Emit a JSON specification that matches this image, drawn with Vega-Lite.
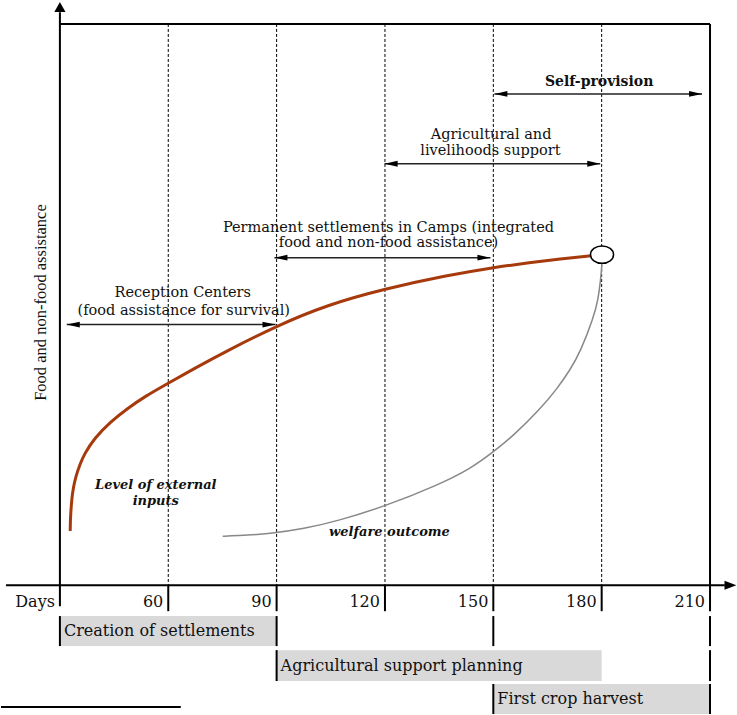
{
  "$schema": "https://vega.github.io/schema/vega-lite/v6.json",
  "width": 737,
  "height": 715,
  "autosize": {"type": "fit", "contains": "padding"},
  "padding": 0,
  "background": "white",
  "config": {"view": {"stroke": null}},
  "datasets": {
    "lanes": [
      {"task": "Creation of settlements", "start": 30, "end": 90, "top": -5.5, "bottom": -10.85, "mid": -8.2},
      {"task": "Agricultural support planning", "start": 90, "end": 180, "top": -11.57, "bottom": -17.08, "mid": -14.35},
      {"task": "First crop harvest", "start": 150, "end": 210, "top": -17.6, "bottom": -22.95, "mid": -20.3}
    ],
    "grid": [
      {"day": 60, "top": 100, "bottom": 0},
      {"day": 90, "top": 100, "bottom": 0},
      {"day": 120, "top": 100, "bottom": 0},
      {"day": 150, "top": 100, "bottom": 0},
      {"day": 180, "top": 100, "bottom": 0}
    ],
    "verticals": [
      {"day": 30, "top": 102.1, "bottom": -3.74},
      {"day": 210, "top": 100, "bottom": -4.63},
      {"day": 60, "top": 0, "bottom": -4.63},
      {"day": 90, "top": 0, "bottom": -4.63},
      {"day": 120, "top": 0, "bottom": -4.63},
      {"day": 150, "top": 0, "bottom": -4.63},
      {"day": 180, "top": 0, "bottom": -4.63},
      {"day": 30, "top": -5.5, "bottom": -10.85},
      {"day": 90, "top": -5.5, "bottom": -10.85},
      {"day": 90, "top": -11.57, "bottom": -17.08},
      {"day": 150, "top": -5.5, "bottom": -10.85},
      {"day": 150, "top": -17.6, "bottom": -22.95},
      {"day": 210, "top": -5.5, "bottom": -10.85},
      {"day": 210, "top": -11.57, "bottom": -17.08},
      {"day": 210, "top": -17.6, "bottom": -22.95}
    ],
    "horizontals": [
      {"from": 30, "to": 210, "level": 100},
      {"from": 15.07, "to": 214.1, "level": 0},
      {"from": 13.69, "to": 63.46, "level": -21.71}
    ],
    "xArrow": [{"day": 217.3, "level": 0}],
    "yArrow": [{"day": 30, "level": 103.9}],
    "spans": [
      {"phase": "Self-provision", "start": 150.3, "end": 207.8, "level": 87.54},
      {"phase": "Agricultural and livelihoods support", "start": 119.9, "end": 179.6, "level": 75.09},
      {"phase": "Permanent settlements in Camps", "start": 89.4, "end": 149.2, "level": 58.36},
      {"phase": "Reception Centers", "start": 31.9, "end": 89.7, "level": 46.44}
    ],
    "inputs": [
      {"day": 32.85, "level": 9.66},
      {"day": 32.9, "level": 11.5},
      {"day": 32.99, "level": 12.63},
      {"day": 33.26, "level": 15.3},
      {"day": 33.73, "level": 17.44},
      {"day": 34.42, "level": 19.4},
      {"day": 35.53, "level": 21.53},
      {"day": 36.72, "level": 23.31},
      {"day": 39.48, "level": 26.16},
      {"day": 44.1, "level": 29.18},
      {"day": 48.72, "level": 31.49},
      {"day": 53.31, "level": 33.54},
      {"day": 59.86, "level": 35.94},
      {"day": 67.13, "level": 38.59},
      {"day": 76.37, "level": 41.8},
      {"day": 89.72, "level": 46.12},
      {"day": 104.02, "level": 49.95},
      {"day": 119.86, "level": 52.79},
      {"day": 137.2, "level": 55.2},
      {"day": 150.08, "level": 56.6},
      {"day": 160.23, "level": 57.49},
      {"day": 168.53, "level": 58.13},
      {"day": 176.82, "level": 58.7},
      {"day": 179.03, "level": 58.84},
      {"day": 179.5, "level": 58.88}
    ],
    "welfare": [
      {"day": 75.07, "level": 8.72},
      {"day": 78.5, "level": 8.8},
      {"day": 88.34, "level": 9.16},
      {"day": 97.55, "level": 10.05},
      {"day": 106.78, "level": 11.42},
      {"day": 120.14, "level": 14.09},
      {"day": 134.43, "level": 17.78},
      {"day": 143.64, "level": 20.73},
      {"day": 149.92, "level": 23.72},
      {"day": 155.61, "level": 26.65},
      {"day": 163.0, "level": 31.41},
      {"day": 167.61, "level": 34.96},
      {"day": 171.29, "level": 38.4},
      {"day": 174.06, "level": 41.51},
      {"day": 177.73, "level": 47.67},
      {"day": 179.03, "level": 50.89},
      {"day": 179.72, "level": 54.45},
      {"day": 180.06, "level": 57.12},
      {"day": 180.1, "level": 58.0}
    ],
    "node": [{"day": 180.1, "level": 58.9}],
    "notesNormal": [
      {"text": "Agricultural and", "day": 149.4, "level": 80.25},
      {"text": "livelihoods support", "day": 149.2, "level": 77.4},
      {"text": "Permanent settlements in Camps (integrated", "day": 120.97, "level": 63.7},
      {"text": "food and non-food assistance)", "day": 120.97, "level": 61.03},
      {"text": "Reception Centers", "day": 64.0, "level": 52.14},
      {"text": "(food assistance for survival)", "day": 64.3, "level": 48.93}
    ],
    "notesBold": [
      {"text": "Self-provision", "day": 179.3, "level": 89.68}
    ],
    "notesItalic": [
      {"text": "Level of external", "day": 56.54, "level": 17.79},
      {"text": "inputs", "day": 56.54, "level": 14.95},
      {"text": "welfare outcome", "day": 121.24, "level": 9.43}
    ],
    "tickLabels": [
      {"day": 30, "label": "Days"},
      {"day": 60, "label": "60"},
      {"day": 90, "label": "90"},
      {"day": 120, "label": "120"},
      {"day": 150, "label": "150"},
      {"day": 180, "label": "180"},
      {"day": 210, "label": "210"}
    ],
    "yTitle": [{"text": "Food and non-food assistance", "day": 24.75, "level": 50.36}]
  },
  "layer": [
    {
      "data": {"name": "lanes"},
      "mark": {"type": "rect", "fill": "#d9d9d9"},
      "encoding": {
        "x": {"field": "start", "type": "quantitative", "scale": {"domain": [13.69, 217.47], "nice": false, "zero": false}, "axis": null},
        "x2": {"field": "end"},
        "y": {"field": "top", "type": "quantitative", "scale": {"domain": [-22.95, 104.27], "nice": false, "zero": false}, "axis": null},
        "y2": {"field": "bottom"}
      }
    },
    {
      "data": {"name": "lanes"},
      "mark": {"type": "text", "align": "left", "baseline": "middle", "dx": 4, "font": "DejaVu Serif", "fontSize": 16, "color": "#111"},
      "encoding": {
        "x": {"field": "start", "type": "quantitative", "scale": {"domain": [13.69, 217.47], "nice": false, "zero": false}, "axis": null},
        "y": {"field": "mid", "type": "quantitative", "scale": {"domain": [-22.95, 104.27], "nice": false, "zero": false}, "axis": null},
        "text": {"field": "task"}
      }
    },
    {
      "data": {"name": "grid"},
      "mark": {"type": "rule", "color": "#000", "strokeWidth": 1, "strokeDash": [3, 2]},
      "encoding": {
        "x": {"field": "day", "type": "quantitative", "scale": {"domain": [13.69, 217.47], "nice": false, "zero": false}, "axis": null},
        "y": {"field": "top", "type": "quantitative", "scale": {"domain": [-22.95, 104.27], "nice": false, "zero": false}, "axis": null},
        "y2": {"field": "bottom"}
      }
    },
    {
      "data": {"name": "verticals"},
      "mark": {"type": "rule", "color": "#000", "strokeWidth": 2},
      "encoding": {
        "x": {"field": "day", "type": "quantitative", "scale": {"domain": [13.69, 217.47], "nice": false, "zero": false}, "axis": null},
        "y": {"field": "top", "type": "quantitative", "scale": {"domain": [-22.95, 104.27], "nice": false, "zero": false}, "axis": null},
        "y2": {"field": "bottom"}
      }
    },
    {
      "data": {"name": "horizontals"},
      "mark": {"type": "rule", "color": "#000", "strokeWidth": 2},
      "encoding": {
        "x": {"field": "from", "type": "quantitative", "scale": {"domain": [13.69, 217.47], "nice": false, "zero": false}, "axis": null},
        "x2": {"field": "to"},
        "y": {"field": "level", "type": "quantitative", "scale": {"domain": [-22.95, 104.27], "nice": false, "zero": false}, "axis": null}
      }
    },
    {
      "data": {"name": "xArrow"},
      "mark": {"type": "point", "shape": "M1,0L-0.7,-0.65L-0.7,0.65Z", "size": 196, "filled": true, "fill": "#000", "opacity": 1, "strokeWidth": 0, "xOffset": -7},
      "encoding": {
        "x": {"field": "day", "type": "quantitative", "scale": {"domain": [13.69, 217.47], "nice": false, "zero": false}, "axis": null},
        "y": {"field": "level", "type": "quantitative", "scale": {"domain": [-22.95, 104.27], "nice": false, "zero": false}, "axis": null}
      }
    },
    {
      "data": {"name": "yArrow"},
      "mark": {"type": "point", "shape": "M0,-1L0.8,0.4L-0.8,0.4Z", "size": 196, "filled": true, "fill": "#000", "opacity": 1, "strokeWidth": 0, "yOffset": 7},
      "encoding": {
        "x": {"field": "day", "type": "quantitative", "scale": {"domain": [13.69, 217.47], "nice": false, "zero": false}, "axis": null},
        "y": {"field": "level", "type": "quantitative", "scale": {"domain": [-22.95, 104.27], "nice": false, "zero": false}, "axis": null}
      }
    },
    {
      "data": {"name": "spans"},
      "mark": {"type": "rule", "color": "#222", "strokeWidth": 1.5},
      "encoding": {
        "x": {"field": "start", "type": "quantitative", "scale": {"domain": [13.69, 217.47], "nice": false, "zero": false}, "axis": null},
        "x2": {"field": "end"},
        "y": {"field": "level", "type": "quantitative", "scale": {"domain": [-22.95, 104.27], "nice": false, "zero": false}, "axis": null}
      }
    },
    {
      "data": {"name": "spans"},
      "mark": {"type": "point", "shape": "M1,0L-1,-0.45L-1,0.45Z", "size": 169, "filled": true, "fill": "#000", "opacity": 1, "strokeWidth": 0, "xOffset": -6.5},
      "encoding": {
        "x": {"field": "end", "type": "quantitative", "scale": {"domain": [13.69, 217.47], "nice": false, "zero": false}, "axis": null},
        "y": {"field": "level", "type": "quantitative", "scale": {"domain": [-22.95, 104.27], "nice": false, "zero": false}, "axis": null}
      }
    },
    {
      "data": {"name": "spans"},
      "mark": {"type": "point", "shape": "M-1,0L1,-0.45L1,0.45Z", "size": 169, "filled": true, "fill": "#000", "opacity": 1, "strokeWidth": 0, "xOffset": 6.5},
      "encoding": {
        "x": {"field": "start", "type": "quantitative", "scale": {"domain": [13.69, 217.47], "nice": false, "zero": false}, "axis": null},
        "y": {"field": "level", "type": "quantitative", "scale": {"domain": [-22.95, 104.27], "nice": false, "zero": false}, "axis": null}
      }
    },
    {
      "data": {"name": "welfare"},
      "mark": {"type": "line", "color": "#888888", "strokeWidth": 1.5, "interpolate": "basis"},
      "encoding": {
        "x": {"field": "day", "type": "quantitative", "scale": {"domain": [13.69, 217.47], "nice": false, "zero": false}, "axis": null},
        "y": {"field": "level", "type": "quantitative", "scale": {"domain": [-22.95, 104.27], "nice": false, "zero": false}, "axis": null}
      }
    },
    {
      "data": {"name": "inputs"},
      "mark": {"type": "line", "color": "#a63a0c", "strokeWidth": 3, "interpolate": "basis"},
      "encoding": {
        "x": {"field": "day", "type": "quantitative", "scale": {"domain": [13.69, 217.47], "nice": false, "zero": false}, "axis": null},
        "y": {"field": "level", "type": "quantitative", "scale": {"domain": [-22.95, 104.27], "nice": false, "zero": false}, "axis": null}
      }
    },
    {
      "data": {"name": "node"},
      "mark": {"type": "point", "shape": "M-1,0A1,0.76,0,1,1,1,0A1,0.76,0,1,1,-1,0Z", "size": 529, "filled": true, "fill": "#fff", "stroke": "#000", "strokeWidth": 1.5, "opacity": 1},
      "encoding": {
        "x": {"field": "day", "type": "quantitative", "scale": {"domain": [13.69, 217.47], "nice": false, "zero": false}, "axis": null},
        "y": {"field": "level", "type": "quantitative", "scale": {"domain": [-22.95, 104.27], "nice": false, "zero": false}, "axis": null}
      }
    },
    {
      "data": {"name": "notesNormal"},
      "mark": {"type": "text", "align": "center", "baseline": "middle", "font": "DejaVu Serif", "fontSize": 14.5, "color": "#111"},
      "encoding": {
        "x": {"field": "day", "type": "quantitative", "scale": {"domain": [13.69, 217.47], "nice": false, "zero": false}, "axis": null},
        "y": {"field": "level", "type": "quantitative", "scale": {"domain": [-22.95, 104.27], "nice": false, "zero": false}, "axis": null},
        "text": {"field": "text"}
      }
    },
    {
      "data": {"name": "notesBold"},
      "mark": {"type": "text", "align": "center", "baseline": "middle", "font": "DejaVu Serif", "fontSize": 14, "fontWeight": "bold", "color": "#111"},
      "encoding": {
        "x": {"field": "day", "type": "quantitative", "scale": {"domain": [13.69, 217.47], "nice": false, "zero": false}, "axis": null},
        "y": {"field": "level", "type": "quantitative", "scale": {"domain": [-22.95, 104.27], "nice": false, "zero": false}, "axis": null},
        "text": {"field": "text"}
      }
    },
    {
      "data": {"name": "notesItalic"},
      "mark": {"type": "text", "align": "center", "baseline": "middle", "font": "DejaVu Serif", "fontSize": 13, "fontWeight": "bold", "fontStyle": "italic", "color": "#111"},
      "encoding": {
        "x": {"field": "day", "type": "quantitative", "scale": {"domain": [13.69, 217.47], "nice": false, "zero": false}, "axis": null},
        "y": {"field": "level", "type": "quantitative", "scale": {"domain": [-22.95, 104.27], "nice": false, "zero": false}, "axis": null},
        "text": {"field": "text"}
      }
    },
    {
      "data": {"name": "tickLabels"},
      "mark": {"type": "text", "align": "right", "baseline": "middle", "dx": -5, "font": "DejaVu Serif", "fontSize": 16, "color": "#111"},
      "encoding": {
        "x": {"field": "day", "type": "quantitative", "scale": {"domain": [13.69, 217.47], "nice": false, "zero": false}, "axis": null},
        "y": {"datum": -3.02, "type": "quantitative", "scale": {"domain": [-22.95, 104.27], "nice": false, "zero": false}, "axis": null},
        "text": {"field": "label"}
      }
    },
    {
      "data": {"name": "yTitle"},
      "mark": {"type": "text", "align": "center", "baseline": "middle", "angle": 270, "font": "Liberation Serif", "fontSize": 16.5, "color": "#111"},
      "encoding": {
        "x": {"field": "day", "type": "quantitative", "scale": {"domain": [13.69, 217.47], "nice": false, "zero": false}, "axis": null},
        "y": {"field": "level", "type": "quantitative", "scale": {"domain": [-22.95, 104.27], "nice": false, "zero": false}, "axis": null},
        "text": {"field": "text"}
      }
    }
  ]
}
